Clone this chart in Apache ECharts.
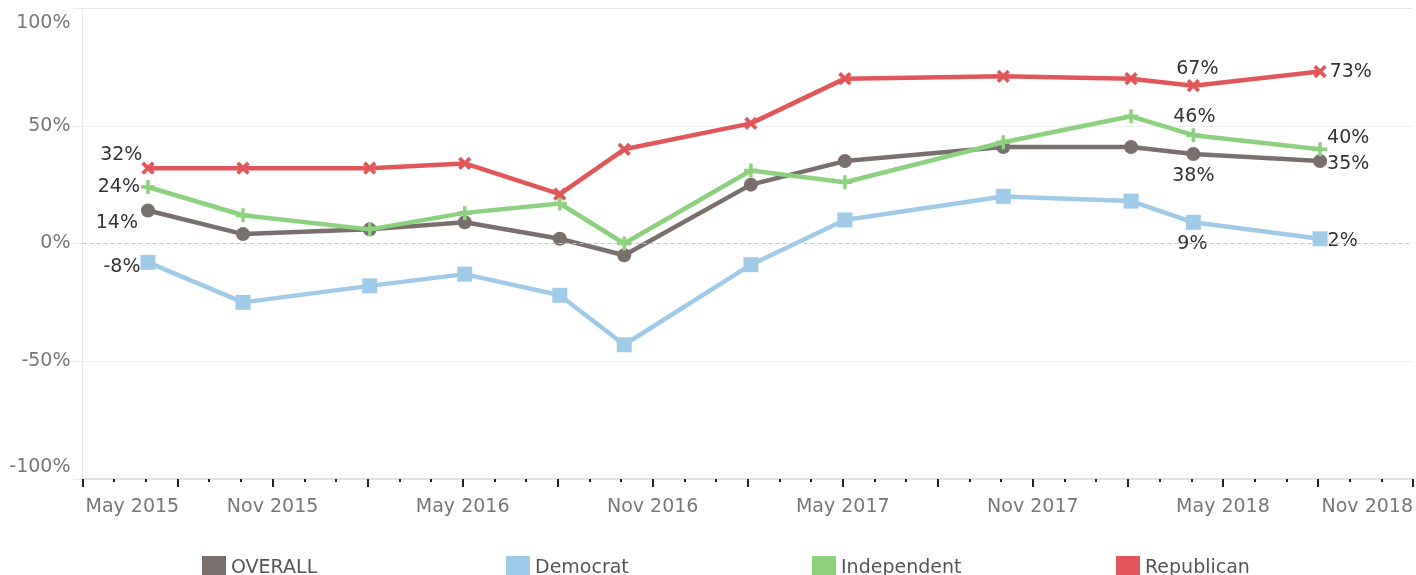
<!DOCTYPE html>
<html>
<head>
<meta charset="utf-8">
<script src="https://cdn.jsdelivr.net/npm/echarts@6/dist/echarts.min.js"></script>
<style>
  html, body { margin: 0; padding: 0; background: #fff; }
  #chart { width: 1416px; height: 575px; }
</style>
</head>
<body>
<div id="chart"></div>
<script>
// poll dates and net approval (%) per group
const dates = ['2015-07-03', '2015-10-03', '2016-02-03', '2016-05-03', '2016-08-03', '2016-10-04',
               '2017-02-04', '2017-05-03', '2017-10-03', '2018-02-04', '2018-04-03', '2018-08-03']
const overall     = [14, 4, 6, 9, 2, -5, 25, 35, 41, 41, 38, 35]
const democrat    = [-8, -25, -18, -13, -22, -43, -9, 10, 20, 18, 9, 2]
const independent = [24, 12, 6, 13, 17, 0, 31, 26, 43, 54, 46, 40]
const republican  = [32, 32, 32, 34, 21, 40, 51, 70, 71, 70, 67, 73]
const groupNames  = ['OVERALL', 'Democrat', 'Independent', 'Republican']
const yTicks      = [-100, -50, 0, 50, 100]

const monthNames = ['Jan', 'Feb', 'Mar', 'Apr', 'May', 'Jun', 'Jul', 'Aug', 'Sep', 'Oct', 'Nov', 'Dec']
const FONT = 'DejaVu Sans'
const FS = 19

// x axis counts months from May 2015
const monthPos = (s) => {
    const [y, m, d] = s.split('-').map(Number)
    return (y - 2015) * 12 + (m - 5) + (d - 1) / 30
}
const monthLabel = (v) => {
    const k = 4 + Math.round(v)
    return monthNames[k % 12] + ' ' + (2015 + Math.floor(k / 12))
}

const colors = ['#79706e', '#a0cbe8', '#8cd17d', '#e15759']
const plus = 'path://M4.5,0h3v4.5h4.5v3h-4.5v4.5h-3v-4.5h-4.5v-3h4.5z'

// which points carry a value label, and where
const labelSpecs = [
    { 0: ['left', 3, [0, 13]], 10: ['bottom', 6, [0, 0]], 11: ['right', 0, [0, 3]] },
    { 0: ['left', 0, [0, 5]], 10: ['bottom', 4, [-1, 1]], 11: ['right', 0, [0, 2]] },
    { 0: ['left', 1, [0, 0]], 10: ['top', 3, [1, 1]], 11: ['right', 0, [0, -11]] },
    { 0: ['left', 0, [5, -13]], 10: ['top', 1, [4, 4]], 11: ['right', 0, [-1, 0]] }
]

const build = (vals, idx) => vals.map((v, i) => {
    const item = { value: [monthPos(dates[i]), v] }
    const spec = labelSpecs[idx][i]
    if (spec) {
        item.label = {
            show: true,
            position: spec[0],
            distance: spec[1],
            offset: spec[2],
            formatter: v + '%',
            color: '#333',
            fontSize: FS,
            fontFamily: FONT
        }
    }
    return item
})

const symbols = [
    { symbol: 'circle', symbolSize: 14 },
    { symbol: 'rect', symbolSize: 15 },
    { symbol: plus, symbolSize: 14 },
    { symbol: plus, symbolSize: 15, symbolRotate: 45 }
]

const series = [overall, democrat, independent, republican].map((vals, idx) => ({
    name: groupNames[idx],
    type: 'line',
    data: build(vals, idx),
    ...symbols[idx],
    showAllSymbol: true,
    lineStyle: { width: 4.5, color: colors[idx] },
    itemStyle: { color: colors[idx] },
    emphasis: { disabled: true },
    z: 3 + idx
}))

series[0].markLine = {
    silent: true,
    symbol: ['none', 'none'],
    label: { show: false },
    lineStyle: { color: '#c4c4c4', type: [4, 3], width: 1 },
    data: [{ yAxis: 0 }]
}

// one legend per group so the items sit on an even spacing
const legendLefts = [197, 501, 807, 1111]
const legends = groupNames.map((name, i) => ({
    data: [name],
    left: legendLefts[i],
    top: 551,
    icon: 'rect',
    itemWidth: 24,
    itemHeight: 24,
    itemTextGap: 10,
    textStyle: { color: '#555', fontSize: FS, fontFamily: FONT },
    selectedMode: false
}))

const chart = echarts.init(document.getElementById('chart'))
chart.setOption({
    animation: false,
    color: colors,
    grid: { left: 82.5, right: 0, top: 8, bottom: 96 },
    legend: legends,
    xAxis: {
        type: 'value',
        min: 0,
        max: 42,
        interval: 3,
        axisLine: { show: true, onZero: false, lineStyle: { color: '#e2e2e2', width: 2 } },
        axisTick: { show: true, length: 8, lineStyle: { color: '#222', width: 2 } },
        minorTick: { show: true, splitNumber: 3, length: 3, lineStyle: { color: '#222', width: 2 } },
        splitLine: { show: false },
        axisLabel: {
            margin: 19,
            color: '#777',
            fontSize: FS,
            fontFamily: FONT,
            alignMinLabel: 'left',
            alignMaxLabel: 'right',
            formatter: (v) => {
                if (Math.round(v) % 6 !== 0) return ''
                if (v === 0) return '{first|' + monthLabel(v) + '}'
                return monthLabel(v)
            },
            rich: {
                first: { color: '#777', fontSize: FS, fontFamily: FONT, padding: [0, 0, 0, 3] }
            }
        }
    },
    yAxis: {
        type: 'value',
        min: yTicks[0],
        max: yTicks[yTicks.length - 1],
        interval: 50,
        axisLine: { show: true, lineStyle: { color: '#e6e6e6', width: 1 } },
        axisTick: { show: true, length: 9, lineStyle: { color: '#e8e8e8' } },
        splitLine: {
            show: true,
            lineStyle: { color: ['#e2e2e2', '#efefef', 'rgba(0,0,0,0)', '#efefef', '#e6e6e6'], width: 1 }
        },
        axisLabel: {
            margin: 12,
            color: '#777',
            fontSize: FS,
            fontFamily: FONT,
            formatter: (v) => {
                if (v === 100) return '{hi|100%}'
                if (v === -100) return '{lo|-100%}'
                return v + '%'
            },
            rich: {
                hi: { color: '#777', fontSize: FS, fontFamily: FONT, padding: [30, 0, 0, 0] },
                lo: { color: '#777', fontSize: FS, fontFamily: FONT, padding: [0, 0, 24, 0] }
            }
        }
    },
    series: series
})

window.addEventListener('resize', () => {
    chart.resize()
})
</script>
</body>
</html>
